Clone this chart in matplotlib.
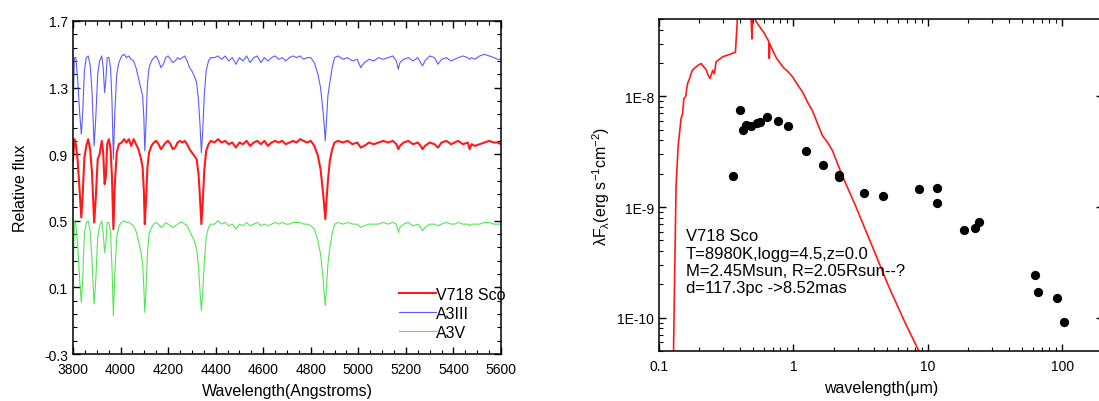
import matplotlib
matplotlib.use('Agg')
import matplotlib.pyplot as plt
from matplotlib.ticker import MultipleLocator, FixedLocator, FixedFormatter, LogLocator, NullFormatter

plt.rcParams['font.family'] = ['Liberation Sans', 'DejaVu Sans']
plt.rcParams['axes.unicode_minus'] = False
plt.rcParams['mathtext.default'] = 'regular'

# ---- spectra (left panel) ----
wl = [3800, 3806, 3812, 3820, 3828, 3835, 3841, 3848, 3856, 3864, 3872, 3880, 3889, 3896,
      3904, 3912, 3921, 3927, 3933, 3938, 3944, 3951, 3958, 3964, 3970, 3976, 3984, 3993,
      4005, 4015, 4025, 4035, 4045, 4055, 4065, 4075, 4085, 4093, 4098, 4102, 4107, 4113, 4120,
      4130, 4140, 4150, 4160, 4170, 4180, 4190, 4200, 4210, 4220, 4230, 4240, 4250, 4260, 4270, 4280, 4290,
      4300, 4310, 4320, 4328, 4334, 4340, 4346, 4352, 4360, 4370, 4380,
      4395, 4410, 4425, 4440, 4455, 4470, 4485, 4500, 4515, 4530, 4545, 4560, 4575, 4590,
      4605, 4620, 4635, 4650, 4665, 4680, 4695, 4710, 4725, 4740, 4755, 4770, 4785, 4800,
      4815, 4830, 4841, 4850, 4856, 4861, 4866, 4872, 4880, 4890, 4900,
      4915, 4935, 4955, 4975, 4995, 5010, 5025, 5045, 5065, 5085, 5105, 5125, 5145, 5160,
      5168, 5175, 5190, 5210, 5230, 5250, 5262, 5270, 5280, 5300, 5320, 5335, 5350, 5370,
      5390, 5405, 5420, 5440, 5460, 5468, 5476, 5490, 5510, 5530, 5550, 5570, 5585, 5600]

v718 = [0.86, 0.99, 0.96, 0.86, 0.68, 0.52, 0.66, 0.88, 0.95, 0.99, 0.93, 0.79, 0.49, 0.64,
        0.87, 0.90, 0.98, 0.91, 0.72, 0.76, 0.96, 0.99, 0.93, 0.76, 0.45, 0.72, 0.91, 0.96,
        0.97, 0.99, 0.97, 0.99, 0.95, 0.99, 0.96, 0.93, 0.88, 0.82, 0.68, 0.48, 0.62, 0.82, 0.91,
        0.95, 0.97, 0.98, 0.96, 0.93, 0.95, 0.97, 0.98, 0.96, 0.93, 0.94, 0.97, 0.98, 0.97, 0.98, 0.96, 0.93,
        0.91, 0.89, 0.87, 0.78, 0.64, 0.48, 0.62, 0.80, 0.92, 0.96, 0.98,
        0.97, 0.99, 0.97, 0.98, 0.96, 0.97, 0.94, 0.97, 0.96, 0.98, 0.95, 0.97, 0.98, 0.96,
        0.98, 0.95, 0.97, 0.98, 0.97, 0.98, 0.96, 0.97, 0.98, 0.97, 0.99, 0.98, 0.97, 0.98,
        0.95, 0.89, 0.81, 0.69, 0.60, 0.51, 0.62, 0.74, 0.86, 0.93, 0.97,
        0.98, 0.97, 0.98, 0.96, 0.97, 0.94, 0.95, 0.97, 0.96, 0.97, 0.98, 0.97, 0.98, 0.96,
        0.93, 0.95, 0.97, 0.98, 0.96, 0.97, 0.95, 0.93, 0.95, 0.97, 0.96, 0.94, 0.97, 0.98,
        0.96, 0.97, 0.98, 0.96, 0.97, 0.93, 0.96, 0.95, 0.96, 0.97, 0.98, 0.97, 0.97, 0.96]

a3iii = [1.15, 1.48, 1.48, 1.35, 1.15, 1.02, 1.15, 1.40, 1.48, 1.49, 1.44, 1.28, 0.95, 1.12,
         1.38, 1.46, 1.49, 1.42, 1.27, 1.34, 1.48, 1.48, 1.42, 1.22, 0.87, 1.15, 1.38, 1.45,
         1.49, 1.50, 1.48, 1.49, 1.47, 1.46, 1.42, 1.36, 1.30, 1.25, 1.12, 0.92, 1.08, 1.32, 1.42,
         1.46, 1.48, 1.49, 1.46, 1.42, 1.44, 1.48, 1.49, 1.47, 1.45, 1.46, 1.48, 1.47, 1.48, 1.49, 1.46, 1.42,
         1.40, 1.37, 1.33, 1.22, 1.08, 0.91, 1.05, 1.25, 1.40, 1.46, 1.48,
         1.48, 1.49, 1.47, 1.49, 1.46, 1.48, 1.44, 1.48, 1.46, 1.49, 1.45, 1.48, 1.49, 1.45,
         1.48, 1.46, 1.48, 1.49, 1.47, 1.48, 1.46, 1.48, 1.49, 1.48, 1.49, 1.47, 1.48, 1.48,
         1.45, 1.38, 1.30, 1.18, 1.08, 0.98, 1.10, 1.25, 1.33, 1.42, 1.48,
         1.49, 1.47, 1.48, 1.46, 1.47, 1.42, 1.45, 1.47, 1.46, 1.48, 1.47, 1.48, 1.49, 1.46,
         1.41, 1.45, 1.47, 1.48, 1.46, 1.48, 1.45, 1.43, 1.46, 1.49, 1.48, 1.44, 1.47, 1.48,
         1.46, 1.47, 1.48, 1.49, 1.48, 1.47, 1.48, 1.47, 1.49, 1.50, 1.49, 1.48, 1.47, 1.47]

a3v = [0.15, 0.50, 0.48, 0.35, 0.15, 0.01, 0.15, 0.42, 0.49, 0.50, 0.44, 0.26, 0.00, 0.15,
       0.40, 0.47, 0.50, 0.43, 0.31, 0.36, 0.49, 0.49, 0.43, 0.22, -0.07, 0.18, 0.40, 0.47,
       0.49, 0.50, 0.49, 0.49, 0.48, 0.47, 0.44, 0.38, 0.32, 0.24, 0.10, -0.05, 0.08, 0.30, 0.42,
       0.46, 0.48, 0.49, 0.48, 0.46, 0.47, 0.49, 0.48, 0.47, 0.46, 0.47, 0.48, 0.49, 0.49, 0.48, 0.47, 0.44,
       0.41, 0.38, 0.33, 0.22, 0.08, -0.04, 0.08, 0.25, 0.40, 0.46, 0.48,
       0.48, 0.50, 0.48, 0.49, 0.47, 0.48, 0.45, 0.48, 0.47, 0.49, 0.47, 0.48, 0.49, 0.47,
       0.48, 0.47, 0.48, 0.49, 0.48, 0.49, 0.48, 0.48, 0.49, 0.49, 0.49, 0.48, 0.48, 0.47,
       0.45, 0.38, 0.30, 0.18, 0.07, -0.01, 0.10, 0.24, 0.34, 0.42, 0.48,
       0.49, 0.48, 0.49, 0.48, 0.48, 0.46, 0.47, 0.48, 0.48, 0.48, 0.49, 0.48, 0.49, 0.48,
       0.43, 0.46, 0.48, 0.49, 0.47, 0.48, 0.46, 0.44, 0.46, 0.48, 0.48, 0.47, 0.48, 0.49,
       0.48, 0.48, 0.49, 0.48, 0.48, 0.47, 0.48, 0.48, 0.48, 0.49, 0.49, 0.48, 0.48, 0.48]

flux_ticks = [-0.3, 0.1, 0.5, 0.9, 1.3, 1.7]

# ---- SED (right panel) ----
phot_wl = [0.353, 0.403, 0.419, 0.444, 0.486, 0.535, 0.56, 0.631, 0.766, 0.908, 1.25, 1.65,
           2.18, 2.19, 3.36, 4.61, 8.63, 11.7, 11.7, 18.6, 22.3, 24.1, 62.4, 66.1, 90.8, 102.8]
phot_flux = [1.91e-9, 7.46e-9, 5.0e-9, 5.52e-9, 5.45e-9, 5.77e-9, 5.85e-9, 6.49e-9, 6.0e-9, 5.37e-9,
             3.2e-9, 2.39e-9, 1.95e-9, 1.87e-9, 1.34e-9, 1.27e-9, 1.45e-9, 1.47e-9, 1.09e-9,
             6.18e-10, 6.48e-10, 7.36e-10, 2.41e-10, 1.70e-10, 1.50e-10, 9.14e-11]

model_wl = [0.128, 0.1306, 0.134, 0.139, 0.146, 0.150, 0.153, 0.158, 0.163, 0.169, 0.176, 0.184,
            0.195, 0.206, 0.215, 0.224, 0.232, 0.240, 0.251, 0.258, 0.266, 0.280, 0.298, 0.315,
            0.334, 0.352, 0.37, 0.374, 0.380, 0.385, 0.40, 0.42, 0.45, 0.47, 0.483, 0.491, 0.497,
            0.52, 0.557, 0.60, 0.64, 0.655, 0.661, 0.667, 0.70, 0.75, 0.783, 0.82, 0.853, 0.90,
            0.984, 1.07, 1.17, 1.27, 1.38, 1.50, 1.64, 1.80, 1.95, 2.31, 2.9, 3.85, 5.11, 6.8,
            8.63, 10.0]
model_flux = [4e-11, 2.05e-10, 1.55e-9, 3.6e-9, 6.3e-9, 7.0e-9, 9.5e-9, 1.0e-8, 1.3e-8, 1.45e-8,
              1.7e-8, 1.8e-8, 1.9e-8, 1.98e-8, 1.85e-8, 1.75e-8, 1.55e-8, 1.45e-8, 1.72e-8, 1.6e-8,
              2.05e-8, 2.15e-8, 2.28e-8, 2.33e-8, 2.39e-8, 2.45e-8, 2.5e-8, 3.1e-8, 4.2e-8, 6e-8,
              7e-8, 6.5e-8, 7e-8, 6.5e-8, 5.5e-8, 3.3e-8, 5.6e-8, 4.9e-8, 4.3e-8, 3.8e-8, 3.3e-8,
              3.15e-8, 2.2e-8, 3.0e-8, 2.6e-8, 2.2e-8, 2.05e-8, 1.9e-8, 1.79e-8, 1.7e-8, 1.5e-8,
              1.28e-8, 1.09e-8, 8.9e-9, 7.46e-9, 5.8e-9, 4.42e-9, 3.8e-9, 3.23e-9, 1.91e-9, 1.02e-9,
              4.42e-10, 1.91e-10, 8.87e-11, 4.9e-11, 3.3e-11]

info = ['V718 Sco', 'T=8980K,logg=4.5,z=0.0', 'M=2.45Msun, R=2.05Rsun--?', 'd=117.3pc ->8.52mas']

fig = plt.figure(figsize=(10.99, 4.02), dpi=100)

# left panel
ax1 = fig.add_axes([0.0664, 0.1169, 0.3895, 0.8284])
ax1.plot(wl, v718, color='#ff1a1a', lw=1.5, label='V718 Sco')
ax1.plot(wl, a3iii, color='#5c5cff', lw=0.8, label='A3III')
ax1.plot(wl, a3v, color='#55e655', lw=0.8, label='A3V')
ax1.set_xlim(3800, 5600)
ax1.set_ylim(-0.3, 1.7)
ax1.xaxis.set_major_locator(MultipleLocator(200))
ax1.xaxis.set_minor_locator(MultipleLocator(50))
ax1.yaxis.set_major_locator(FixedLocator(flux_ticks))
ax1.yaxis.set_major_formatter(FixedFormatter(['%.1f' % v for v in flux_ticks]))
ax1.yaxis.set_minor_locator(MultipleLocator(0.08, offset=0.02))
ax1.set_xlabel('Wavelength(Angstroms)', fontsize=11.5, labelpad=5)
ax1.set_ylabel('Relative flux', fontsize=11.5, labelpad=12)
ax1.legend(loc='upper left', bbox_to_anchor=(0.743, 0.225), frameon=False, fontsize=11.5,
           handlelength=2.3, handletextpad=0.0, borderpad=0, labelspacing=0.25)

# right panel
ax2 = fig.add_axes([0.5996, 0.1244, 0.404, 0.8259])
ax2.set_xscale('log')
ax2.set_yscale('log')
ax2.plot(model_wl, model_flux, color='#ff1a1a', lw=1.2)
ax2.scatter(phot_wl, phot_flux, s=32, color='black', zorder=3)
ax2.set_xlim(0.1, 200)
ax2.set_ylim(5e-11, 5e-8)
ax2.xaxis.set_major_locator(FixedLocator([0.1, 1, 10, 100]))
ax2.xaxis.set_major_formatter(FixedFormatter(['0.1', '1', '10', '100']))
ax2.xaxis.set_minor_locator(LogLocator(base=10, subs=range(2, 10)))
ax2.xaxis.set_minor_formatter(NullFormatter())
ax2.yaxis.set_major_locator(FixedLocator([1e-10, 1e-9, 1e-8]))
ax2.yaxis.set_major_formatter(FixedFormatter(['1E-10', '1E-9', '1E-8']))
ax2.yaxis.set_minor_locator(LogLocator(base=10, subs=range(2, 10)))
ax2.yaxis.set_minor_formatter(NullFormatter())
ax2.set_xlabel('wavelength(\u03bcm)', fontsize=11.5, labelpad=5)
ax2.set_ylabel(r'$\lambda$F$_\lambda$(erg s$^{-1}$cm$^{-2}$)', fontsize=11.5, labelpad=4)
ax2.text(0.061, 0.37, '\n'.join(info), transform=ax2.transAxes, fontsize=12,
         va='top', ha='left', linespacing=1.2)

for ax in (ax1, ax2):
    ax.tick_params(which='both', direction='in', top=True, right=True, labelsize=10)
    ax.tick_params(which='major', length=5, width=1)
    ax.tick_params(which='minor', length=3, width=0.8)
    ax.tick_params(axis='x', which='major', pad=6)
    for sp in ax.spines.values():
        sp.set_linewidth(1.1)

fig.savefig('out.png', dpi=100)
